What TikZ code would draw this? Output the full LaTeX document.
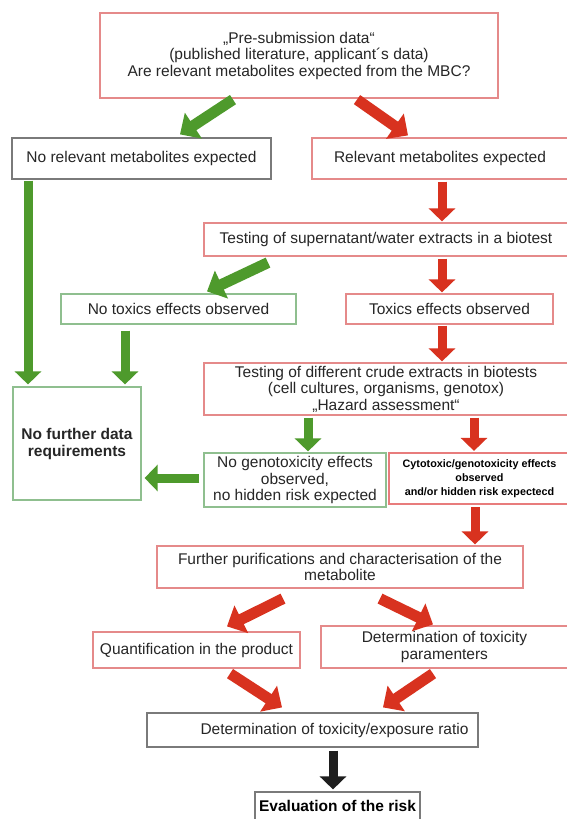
\documentclass[tikz,border=0pt]{standalone}
\usepackage{fontspec}
\setmainfont{Liberation Sans}
\usetikzlibrary{arrows.meta}
\definecolor{boxred}{HTML}{E58A8A}
\definecolor{boxgreen}{HTML}{8FBF8F}
\definecolor{boxgray}{HTML}{7A7A7A}
\definecolor{arrred}{HTML}{D8321F}
\definecolor{arrgreen}{HTML}{4E9A2C}
\definecolor{arrblack}{HTML}{1E1E1E}
\tikzset{
 box/.style={draw, line width=1.2pt, fill=white, align=center, inner sep=2pt,
   text=black!85, font=\fontsize{15.5}{16.5}\selectfont},
 redbox/.style={box, draw=boxred},
 greenbox/.style={box, draw=boxgreen},
 graybox/.style={box, draw=boxgray},
 varrow/.style={line width=9pt, -{Triangle[width=26pt,length=13pt]}},
 darrow/.style={line width=11pt, -{Triangle[width=30pt,length=16pt]}},
}
\begin{document}
\begin{tikzpicture}[x=1pt,y=1pt]
\fill[white] (0,0) rectangle (566,-819);
\useasboundingbox (0,0) rectangle (566,-819);

\node[redbox, minimum width=398pt, minimum height=85pt] (pre) at (299,-55.5)
  {„Pre-submission data“\\(published literature, applicant´s data)\\Are relevant metabolites expected from the MBC?};
\node[graybox, minimum width=259pt, minimum height=41pt] (norel) at (141.5,-158.5) {No relevant metabolites expected};
\node[redbox, minimum width=256pt, minimum height=41pt] (rel) at (440,-158.5) {Relevant metabolites expected};
\node[redbox, minimum width=364pt, minimum height=33pt] (sup) at (386,-239.5) {Testing of supernatant/water extracts in a biotest};
\node[greenbox, minimum width=235pt, minimum height=30pt] (notox) at (178.5,-309) {No toxics effects observed};
\node[redbox, minimum width=207pt, minimum height=30pt] (tox) at (449.5,-309) {Toxics effects observed};
\node[redbox, minimum width=364pt, minimum height=52pt] (crude) at (386,-389)
  {Testing of different crude extracts in biotests\\(cell cultures, organisms, genotox)\\„Hazard assessment“};
\node[greenbox, minimum width=128pt, minimum height=113pt, font=\fontsize{15.5}{17}\selectfont\bfseries] (nofurther) at (77,-443.5)
  {No further data\\requirements};
\node[greenbox, minimum width=182pt, minimum height=54pt] (nogeno) at (295,-480)
  {No genotoxicity effects\\observed,\\no hidden risk expected};
\node[redbox, line width=2.2pt, draw=boxred!90!red, minimum width=181pt, minimum height=51pt,
  font=\fontsize{10.8}{14}\selectfont\bfseries, text=black] (cyto) at (479.5,-478.5)
  {Cytotoxic/genotoxicity effects\\observed\\and/or hidden risk expectecd};
\node[redbox, minimum width=366pt, minimum height=42pt] (further) at (340,-567)
  {Further purifications and characterisation of the\\metabolite};
\node[redbox, minimum width=207pt, minimum height=36pt] (quant) at (196.5,-650) {Quantification in the product};
\node[redbox, minimum width=247pt, minimum height=42pt] (dettox) at (444.5,-647)
  {Determination of toxicity\\paramenters};
\node[graybox, minimum width=331pt, minimum height=34pt] (ratio) at (312.5,-730)
  {\hspace*{44pt}Determination of toxicity/exposure ratio};
\node[graybox, minimum width=165pt, minimum height=28pt, font=\fontsize{15.5}{17}\selectfont\bfseries, text=black] (eval) at (337.5,-806)
  {Evaluation of the risk};

% arrows
\draw[darrow, arrgreen] ([xshift=-66pt,yshift=-1pt]pre.south) -- ([xshift=38.5pt,yshift=3pt]norel.north);
\draw[darrow, arrred] ([xshift=58pt,yshift=-1pt]pre.south) -- ([xshift=-32pt,yshift=2pt]rel.north);
\draw[varrow, arrred] ([xshift=2pt,yshift=-2pt]rel.south) -- ([xshift=56pt,yshift=1pt]sup.north);
\draw[varrow, arrred] ([xshift=56pt,yshift=-2pt]sup.south) -- ([xshift=-7.5pt,yshift=1pt]tox.north);
\draw[darrow, arrgreen] ([xshift=-118pt,yshift=-6pt]sup.south) -- ([xshift=28.5pt,yshift=2pt]notox.north);
\draw[varrow, arrred] ([xshift=-7.5pt,yshift=-1pt]tox.south) -- ([xshift=56pt,yshift=1pt]crude.north);
\draw[varrow, arrgreen] ([xshift=-113.5pt,yshift=-1pt]norel.south) -- ([xshift=-49pt,yshift=2pt]nofurther.north);
\draw[varrow, arrgreen] ([xshift=-53.5pt,yshift=-6pt]notox.south) -- ([xshift=48pt,yshift=2pt]nofurther.north);
\draw[varrow, arrgreen] ([xshift=-78pt,yshift=-2pt]crude.south) -- ([xshift=13pt,yshift=1pt]nogeno.north);
\draw[varrow, arrred] ([xshift=88pt,yshift=-2pt]crude.south) -- ([xshift=-5.5pt,yshift=1pt]cyto.north);
\draw[varrow, arrgreen] ([xshift=-4pt,yshift=2pt]nogeno.west) -- ([xshift=3pt,yshift=-34.5pt]nofurther.east);
\draw[varrow, arrred] ([xshift=-4.5pt,yshift=-2pt]cyto.south) -- ([xshift=135pt,yshift=1pt]further.north);
\draw[darrow, arrred] ([xshift=-57pt,yshift=-10pt]further.south) -- ([xshift=30.5pt,yshift=5pt]quant.north);
\draw[darrow, arrred] ([xshift=40pt,yshift=-10pt]further.south) -- ([xshift=-11.5pt,yshift=1pt]dettox.north);
\draw[darrow, arrred] ([xshift=33.5pt,yshift=-5pt]quant.south) -- ([xshift=-30.5pt,yshift=5pt]ratio.north);
\draw[darrow, arrred] ([xshift=-11.5pt,yshift=-5pt]dettox.south) -- ([xshift=70.5pt,yshift=5pt]ratio.north);
\draw[varrow, arrblack] ([xshift=20.5pt,yshift=-3pt]ratio.south) -- ([xshift=-4.5pt,yshift=2pt]eval.north);
\end{tikzpicture}
\end{document}
